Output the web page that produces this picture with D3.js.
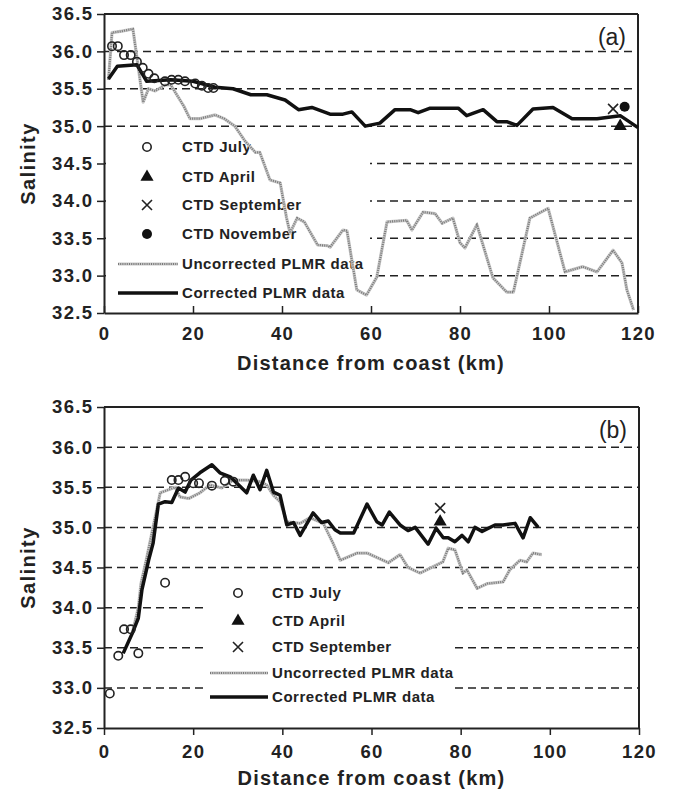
<!DOCTYPE html>
<html>
<head>
<meta charset="utf-8">
<script src="https://cdn.jsdelivr.net/npm/d3@7"></script>
<style>
  body { margin: 0; background: #fff; }
  svg text { font-family: "Liberation Sans", Arial, sans-serif; }
</style>
</head>
<body>
<div id="chart"></div>
<script>
// salinity ticks shared by both panels
const salTicks = [32.5, 33.0, 33.5, 34.0, 34.5, 35.0, 35.5, 36.0, 36.5];
const kmTicks = [0, 20, 40, 60, 80, 100, 120];
const gridLevels = [33.0, 33.5, 34.0, 34.5, 35.0, 35.5, 36.0];

// panel (a)
const corrA = [[1,35.63],[3,35.8],[7.4,35.82],[9.6,35.6],[15,35.62],[20,35.6],[25,35.52],[29,35.5],[33,35.42],[36.6,35.42],[40.7,35.35],[43.7,35.22],[46.7,35.25],[50.8,35.16],[53.7,35.16],[55.7,35.19],[58.7,35.0],[62,35.04],[65.4,35.22],[68.8,35.22],[70.6,35.18],[73.3,35.24],[77,35.24],[79.6,35.24],[81.5,35.14],[85.2,35.22],[88.3,35.06],[90.5,35.06],[92.8,35.01],[96.4,35.23],[100.9,35.25],[105.2,35.1],[110.8,35.1],[116,35.14],[120,34.98]];
const uncorrA = [[1,35.62],[1.8,36.25],[4,36.27],[6.5,36.3],[8.8,35.32],[10,35.5],[11.5,35.47],[13.7,35.55],[15,35.55],[18,35.26],[19.3,35.1],[21.6,35.1],[25,35.15],[27,35.1],[29.4,35.0],[31.7,34.8],[34,34.65],[35,34.65],[37.3,34.28],[39.6,34.24],[41,33.78],[41.8,33.57],[43.4,33.77],[45,33.72],[48,33.41],[50.3,33.4],[50.8,33.38],[53.7,33.61],[54.6,33.6],[56.8,32.81],[59,32.74],[61.3,32.98],[63.6,33.72],[68,33.74],[69.2,33.61],[71.7,33.85],[74.4,33.83],[76,33.7],[78.4,33.77],[80,33.44],[81.1,33.37],[83.8,33.68],[87.4,32.97],[90.5,32.78],[92,32.78],[95.7,33.77],[99.8,33.9],[103.6,33.05],[107.6,33.12],[110.8,33.05],[114.4,33.34],[116.4,33.17],[117.5,32.81],[119,32.54]];
const julyA = [[1.8,36.07],[3.1,36.07],[4.5,35.95],[6,35.95],[7.4,35.86],[8.7,35.78],[10,35.7],[11.3,35.64],[13.7,35.6],[15.2,35.62],[16.7,35.62],[18.2,35.6],[20.5,35.57],[22,35.54],[23.4,35.51],[24.6,35.51]];
const aprilA = [[116,35.0]];
const septA = [[114.4,35.23]];
const novA = [[117,35.26]];

// panel (b)
const corrB = [[4.3,33.43],[6.5,33.7],[7.7,33.87],[8.5,34.22],[10,34.59],[11,34.8],[12.2,35.29],[13.7,35.32],[15.2,35.31],[16.7,35.49],[18.2,35.44],[19.5,35.59],[21.5,35.68],[24.2,35.78],[26,35.68],[28.3,35.63],[29.8,35.55],[32,35.43],[33.5,35.65],[35,35.47],[36.5,35.71],[38,35.44],[39.5,35.4],[41,35.03],[42.5,35.06],[44,34.9],[46.9,35.18],[48.8,35.06],[50.3,35.08],[51.8,34.97],[53,34.93],[56,34.93],[59,35.29],[61.2,35.07],[62.4,35.03],[64,35.19],[66.4,35.03],[68.2,34.96],[69.8,35.0],[72.7,34.79],[74.5,34.99],[76.1,34.87],[77.2,34.87],[78.7,34.82],[80.3,34.9],[81.7,34.82],[83.2,35.0],[84.8,34.95],[87.7,35.03],[89.5,35.03],[92.2,35.05],[94,34.87],[95.6,35.12],[97.4,35.0]];
const uncorrB = [[6.5,33.72],[7.7,34.0],[8.3,34.3],[9.5,34.6],[11,35.0],[12.6,35.43],[16,35.5],[17,35.38],[19,35.36],[21.5,35.43],[23.8,35.53],[26.4,35.49],[29,35.59],[32,35.59],[35,35.57],[36.5,35.53],[38,35.4],[39.5,35.32],[41,35.07],[44,35.05],[46.2,35.12],[49.2,35.05],[51.4,34.8],[53,34.59],[56.8,34.68],[59,34.68],[63.8,34.56],[66.4,34.66],[68.2,34.5],[70.9,34.43],[73.8,34.51],[76,34.57],[77.2,34.74],[78.7,34.72],[80.5,34.43],[81.4,34.47],[83.7,34.24],[86,34.3],[89.5,34.32],[91,34.47],[93.3,34.59],[94.8,34.57],[96.2,34.68],[98.2,34.66]];
const julyB = [[1.3,32.93],[3.2,33.4],[4.5,33.73],[6,33.73],[7.7,33.43],[13.7,34.31],[15.2,35.59],[16.7,35.59],[18.2,35.63],[20,35.55],[21.3,35.55],[24.2,35.52],[27.1,35.58],[29,35.57]];
const aprilB = [[75.4,35.07]];
const septB = [[75.4,35.24]];

const legendA = ["CTD July", "CTD April", "CTD September", "CTD November", "Uncorrected PLMR data", "Corrected PLMR data"];
const legendB = ["CTD July", "CTD April", "CTD September", "Uncorrected PLMR data", "Corrected PLMR data"];

const svg = d3.select("#chart").append("svg")
    .attr("width", 673)
    .attr("height", 801)
    .style("background", "#fff");

function drawPanel(p) {
    const x = d3.scaleLinear().domain([0, 120]).range([104, p.right]);
    const y = d3.scaleLinear().domain([32.5, 36.5]).range([p.bottom, p.top]);
    const g = svg.append("g");

    // dashed grid
    g.selectAll(".grid").data(gridLevels).enter().append("line")
        .attr("x1", x(0)).attr("x2", x(120))
        .attr("y1", d => y(d)).attr("y2", d => y(d))
        .style("stroke", "#222").style("stroke-width", 1.5)
        .style("stroke-dasharray", "8,5");

    // legend box hides the grid behind it
    const lg = p.legend;
    g.append("rect")
        .attr("x", lg.box[0]).attr("y", lg.box[1])
        .attr("width", lg.box[2]).attr("height", lg.box[3])
        .style("fill", "#fff");

    // frame
    g.append("line").attr("x1", x(0)).attr("x2", x(120)).attr("y1", p.top).attr("y2", p.top)
        .style("stroke", "#222").style("stroke-width", 2);
    g.append("line").attr("x1", x(120)).attr("x2", x(120)).attr("y1", p.top).attr("y2", p.bottom)
        .style("stroke", "#222").style("stroke-width", 2);

    const yAxis = g.append("g")
        .attr("transform", `translate(${x(0)},0)`)
        .call(d3.axisLeft(y).tickValues(salTicks).tickFormat(d3.format(".1f")).tickSize(7).tickPadding(5).tickSizeOuter(0));
    const xAxis = g.append("g")
        .attr("transform", `translate(0,${p.bottom})`)
        .call(d3.axisBottom(x).tickValues(kmTicks).tickSize(p.xTick).tickPadding(p.xPad).tickSizeOuter(0));
    [yAxis, xAxis].forEach(a => {
        a.select(".domain").style("stroke", "#222").style("stroke-width", 2);
        a.selectAll(".tick line").style("stroke", "#222").style("stroke-width", 1.5);
        a.selectAll(".tick text").style("font-size", "18.5px").style("font-weight", "bold")
            .style("letter-spacing", "1.3px")
            .style("fill", "#222").style("font-family", "'Liberation Sans', Arial, sans-serif");
    });
    // letter-spacing adds a trailing gap; pull y labels back to the tick
    yAxis.selectAll(".tick text").attr("dx", "1.3");

    g.append("text")
        .attr("transform", `translate(35,${(p.top + p.bottom) / 2}) rotate(-90)`)
        .attr("text-anchor", "middle")
        .style("font-size", "20px").style("font-weight", "bold").style("fill", "#222")
        .style("letter-spacing", "1.4px")
        .text("Salinity");
    g.append("text")
        .attr("x", (x(0) + x(120)) / 2).attr("y", p.bottom + 57)
        .attr("text-anchor", "middle")
        .style("font-size", "20px").style("font-weight", "bold").style("fill", "#222")
        .style("letter-spacing", "1.2px")
        .text("Distance from coast (km)");
    g.append("text")
        .attr("x", x(120) - 12).attr("y", p.top + 31)
        .attr("text-anchor", "end")
        .style("font-size", "23px").style("fill", "#222")
        .text(p.label);

    // legend entries
    lg.items.forEach((name, i) => {
        const cy = lg.rows[i];
        if (name.indexOf("Uncorrected") === 0) uncorrStyle(g.append("line").attr("x1", lg.line[0]).attr("x2", lg.line[1]).attr("y1", cy).attr("y2", cy), g, [lg.line[0], lg.line[1], cy]);
        else if (name.indexOf("Corrected") === 0) g.append("line").attr("x1", lg.line[0]).attr("x2", lg.line[1]).attr("y1", cy).attr("y2", cy)
            .style("stroke", "#111").style("stroke-width", 3.5);
        else marker(g, name, lg.mx, cy);
        g.append("text")
            .attr("x", lg.tx).attr("y", cy).attr("dy", "0.36em")
            .style("font-size", "15px").style("font-weight", "bold").style("fill", "#222")
            .style("letter-spacing", "0.55px")
            .text(name);
    });

    const line = d3.line().x(d => x(d[0])).y(d => y(d[1]));
    // uncorrected: stippled grey
    g.append("path").datum(p.uncorr).attr("d", line)
        .style("fill", "none").style("stroke", "#c8c8c8").style("stroke-width", 3.2).style("stroke-linejoin", "round");
    g.append("path").datum(p.uncorr).attr("d", line)
        .style("fill", "none").style("stroke", "#7a7a7a").style("stroke-width", 2.2).style("stroke-dasharray", "1,1.2");
    g.append("path").datum(p.corr).attr("d", line)
        .style("fill", "none").style("stroke", "#111").style("stroke-width", 3.5).style("stroke-linejoin", "round");

    p.july.forEach(d => marker(g, "CTD July", x(d[0]), y(d[1])));
    p.april.forEach(d => marker(g, "CTD April", x(d[0]), y(d[1])));
    p.sept.forEach(d => marker(g, "CTD September", x(d[0]), y(d[1])));
    p.nov.forEach(d => marker(g, "CTD November", x(d[0]), y(d[1])));
}

function uncorrStyle(sel, g, c) {
    sel.style("stroke", "#c8c8c8").style("stroke-width", 3.2);
    g.append("line").attr("x1", c[0]).attr("x2", c[1]).attr("y1", c[2]).attr("y2", c[2])
        .style("stroke", "#7a7a7a").style("stroke-width", 2.2).style("stroke-dasharray", "1,1.2");
}

function marker(g, name, cx, cy) {
    if (name === "CTD July") {
        g.append("circle").attr("cx", cx).attr("cy", cy).attr("r", 4.2)
            .style("fill", "#fff").style("fill-opacity", 0).style("stroke", "#222").style("stroke-width", 1.6);
    } else if (name === "CTD April") {
        g.append("path").attr("d", d3.symbol(d3.symbolTriangle, 75)())
            .attr("transform", `translate(${cx},${cy})`).style("fill", "#111");
    } else if (name === "CTD September") {
        g.append("path").attr("d", `M${cx - 5},${cy - 5}L${cx + 5},${cy + 5}M${cx - 5},${cy + 5}L${cx + 5},${cy - 5}`)
            .style("stroke", "#222").style("stroke-width", 1.6);
    } else {
        g.append("circle").attr("cx", cx).attr("cy", cy).attr("r", 5).style("fill", "#111");
    }
}

drawPanel({
    top: 14, bottom: 313, right: 638, label: "(a)", xTick: -7, xPad: 14,
    corr: corrA, uncorr: uncorrA, july: julyA, april: aprilA, sept: septA, nov: novA,
    legend: { box: [106, 136, 264, 168], items: legendA, rows: [147, 177, 205, 234, 264, 293], mx: 147, tx: 182, line: [118, 178] }
});
drawPanel({
    top: 407, bottom: 728, right: 639, label: "(b)", xTick: 7, xPad: 10,
    corr: corrB, uncorr: uncorrB, july: julyB, april: aprilB, sept: septB, nov: [],
    legend: { box: [207, 578, 246, 134], items: legendB, rows: [593, 621, 647, 673, 697], mx: 238, tx: 272, line: [210, 268] }
});
</script>
</body>
</html>
